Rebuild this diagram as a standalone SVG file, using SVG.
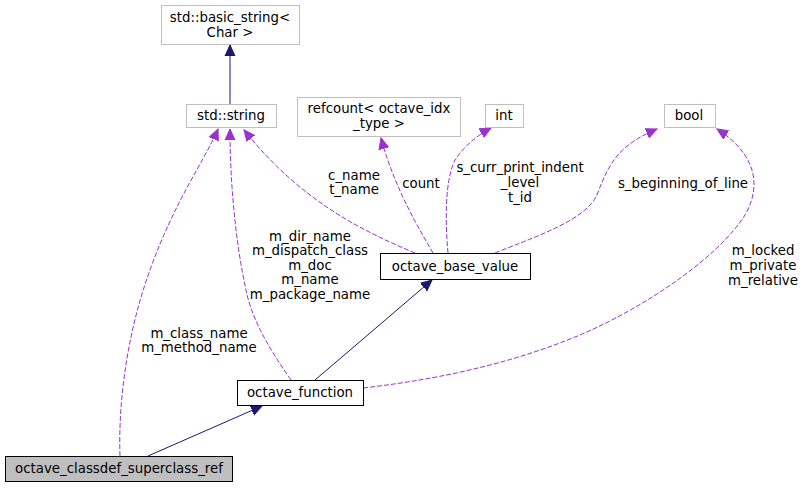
<svg xmlns="http://www.w3.org/2000/svg" width="803" height="488" viewBox="0 0 803 488">
<defs>
<style>
text{font-family:"DejaVu Sans",sans-serif;font-size:13.33px;fill:#000;text-anchor:middle}
.ext rect{fill:#fff;stroke:#bfbfbf;stroke-width:1}
.cls rect{fill:#fff;stroke:#000;stroke-width:1}
.cur rect{fill:#bfbfbf;stroke:#000;stroke-width:1}
.inh{fill:none;stroke:#191970;stroke-width:1}
.use{fill:none;stroke:#9a32cd;stroke-width:1;stroke-dasharray:5,2}
</style>
<marker id="an" markerWidth="12" markerHeight="12" refX="11" refY="5" orient="auto" markerUnits="userSpaceOnUse" viewBox="0 0 12 10"><path d="M0,0 L11,5 L0,10 z" fill="#191970" stroke="#191970"/></marker>
<marker id="ap" markerWidth="12" markerHeight="12" refX="11" refY="5" orient="auto" markerUnits="userSpaceOnUse" viewBox="0 0 12 10"><path d="M0,0 L11,5 L0,10 z" fill="#9a32cd" stroke="#9a32cd"/></marker>
</defs>
<rect width="803" height="488" fill="#fff"/>
<g id="edges">
<path class="inh" d="M230,104 L230,45" marker-end="url(#an)"/>
<path class="inh" d="M315,380 L432,280" marker-end="url(#an)"/>
<path class="inh" d="M148,456 L262,406" marker-end="url(#an)"/>
<path class="use" d="M120,456 C118,400 128,330 150,270 C175,200 205,160 218,129" marker-end="url(#ap)"/>
<path class="use" d="M291,380 C270,350 252,320 246,290 C235,240 230,180 230,129" marker-end="url(#ap)"/>
<path class="use" d="M415,253 C360,230 300,200 244,130" marker-end="url(#ap)"/>
<path class="use" d="M433,253 C420,230 395,190 381,138" marker-end="url(#ap)"/>
<path class="use" d="M448,253 C445,220 445,180 455,160 C465,145 478,135 491,128" marker-end="url(#ap)"/>
<path class="use" d="M495,253 C540,235 585,220 597,195 C610,160 620,145 657,129" marker-end="url(#ap)"/>
<path class="use" d="M363,388 C450,378 520,360 580,335 C650,305 720,255 745,215 C765,180 750,150 717,129" marker-end="url(#ap)"/>
</g>
<g id="std_basic_string" class="ext"><rect x="161.5" y="5.5" width="138" height="39"/><text x="230" y="22">std::basic_string&lt;</text><text x="230" y="37">Char &gt;</text></g>
<g id="std_string" class="ext"><rect x="186.5" y="104.5" width="90" height="23"/><text x="231" y="120">std::string</text></g>
<g id="refcount" class="ext"><rect x="297.5" y="97.5" width="163" height="39"/><text x="379" y="113">refcount&lt; octave_idx</text><text x="379" y="128">_type &gt;</text></g>
<g id="int" class="ext"><rect x="485.5" y="104.5" width="38" height="23"/><text x="504" y="120">int</text></g>
<g id="bool" class="ext"><rect x="664.5" y="104.5" width="51" height="23"/><text x="689" y="120">bool</text></g>
<g id="octave_base_value" class="cls"><rect x="380.5" y="253.5" width="150" height="26"/><text x="455" y="271">octave_base_value</text></g>
<g id="octave_function" class="cls"><rect x="237.5" y="380.5" width="126" height="25"/><text x="300" y="397">octave_function</text></g>
<g id="octave_classdef_superclass_ref" class="cur"><rect x="5.5" y="456.5" width="227" height="25"/><text x="119" y="473">octave_classdef_superclass_ref</text></g>
<g id="labels">
<text x="354" y="180">c_name</text><text x="354" y="194">t_name</text>
<text x="421" y="188">count</text>
<text x="520" y="172">s_curr_print_indent</text><text x="520" y="187">_level</text><text x="520" y="202">t_id</text>
<text x="683" y="188">s_beginning_of_line</text>
<text x="763" y="255">m_locked</text><text x="763" y="270">m_private</text><text x="763" y="285">m_relative</text>
<text x="310" y="241">m_dir_name</text><text x="310" y="255">m_dispatch_class</text><text x="310" y="270">m_doc</text><text x="310" y="284">m_name</text><text x="310" y="299">m_package_name</text>
<text x="199" y="338">m_class_name</text><text x="199" y="352">m_method_name</text>
</g>
</svg>
